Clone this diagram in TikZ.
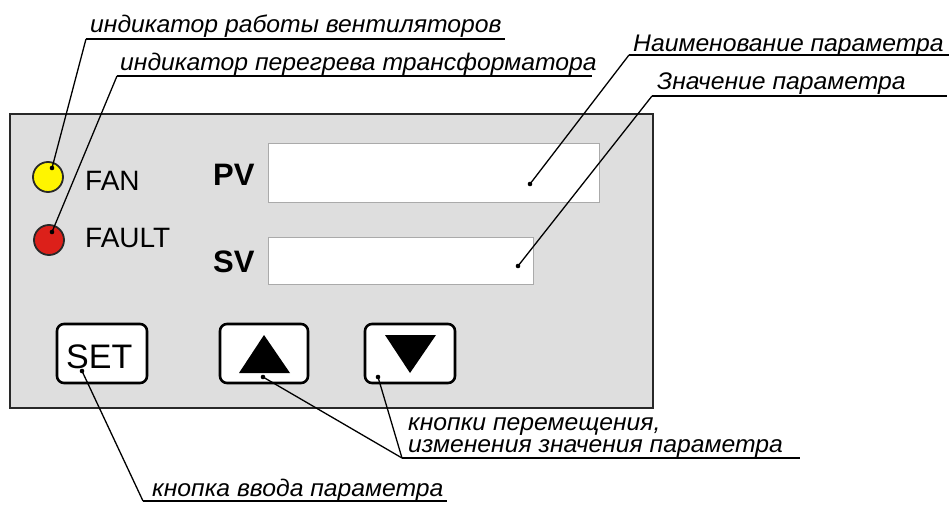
\documentclass[tikz,border=0pt]{standalone}
\usepackage{fontspec}
\setmainfont{Liberation Sans}
\newfontfamily\lblfont{Liberation Sans}[FakeStretch=1.03]
\definecolor{panelfill}{RGB}{222,222,222}
\definecolor{panelline}{RGB}{40,40,40}
\definecolor{boxline}{RGB}{170,170,170}
\definecolor{ledyellow}{RGB}{255,245,0}
\definecolor{ledred}{RGB}{220,32,26}
\tikzset{
  lbl/.style={anchor=base west, inner sep=0pt, font=\lblfont\itshape\fontsize{24}{28}\selectfont},
  tag/.style={anchor=base west, inner sep=0pt, font=\fontsize{28}{32}\selectfont},
  tagbold/.style={anchor=base west, inner sep=0pt, font=\bfseries\fontsize{31}{36}\selectfont},
  leader/.style={line width=1.3pt, black},
  uline/.style={line width=1.3pt, black},
  dispbox/.style={draw=boxline, fill=white, line width=1pt},
  btn/.style={draw=black, fill=white, line width=2.6pt, rounded corners=7pt},
  led/.style={draw=panelline, line width=1.8pt},
}
\begin{document}
\begin{tikzpicture}[x=1pt,y=-1pt]
\useasboundingbox (0,0) rectangle (949,505);

% front panel
\draw[fill=panelfill, draw=panelline, line width=2pt] (10,114) rectangle (653,408);

% indicator LEDs
\draw[led, fill=ledyellow] (48,177) circle (15pt);
\draw[led, fill=ledred] (49,240) circle (15pt);
\node[tag] (fan) at (85,190) {FAN};
\node[tag] (fault) at (85,247) {FAULT};

% display windows
\node[tagbold] (pv) at (213,185) {PV};
\node[tagbold] (sv) at (213,272) {SV};
\draw[dispbox] (268,144) rectangle (599,202);
\draw[dispbox] (268,237) rectangle (533,284);

% keys
\draw[btn] (57,324) rectangle (147,383);
\draw[btn] (220,324) rectangle (308,383);
\draw[btn] (365,324) rectangle (455,383);
\node[anchor=base west, inner sep=0pt, font=\fontsize{34}{40}\selectfont] (set) at (66,368) {SET};
\fill (239,373) -- (264,335) -- (290,373) -- cycle;
\fill (385,335) -- (436,335) -- (410,373) -- cycle;

% leader end points
\coordinate (dFan) at (52,168);
\coordinate (dFault) at (52,232);
\coordinate (dPV) at (530,184);
\coordinate (dSV) at (518,266);
\coordinate (dSet) at (82,371);
\coordinate (dUp) at (263,377);
\coordinate (dDown) at (378,377);
\foreach \p in {dFan,dFault,dPV,dSV,dSet,dUp,dDown} \fill (\p) circle (2.3pt);

% callout labels
\node[lbl] (t1) at (90,33) {индикатор работы вентиляторов};
\node[lbl] (t2) at (120,71) {индикатор перегрева трансформатора};
\node[lbl] (t3) at (633,52) {Наименование параметра};
\node[lbl] (t4) at (657,90) {Значение параметра};
\node[lbl] (t5a) at (408,430) {кнопки перемещения,};
\node[lbl] (t5b) at (408,452) {изменения значения параметра};
\node[lbl] (t6) at (152,496) {кнопка ввода параметра};

% underlines
\coordinate (u1) at (86,39);   \coordinate (u1e) at (505,39);
\coordinate (u2) at (117,76);  \coordinate (u2e) at (592,76);
\coordinate (u3) at (629,55);  \coordinate (u3e) at (949,55);
\coordinate (u4) at (652,96);  \coordinate (u4e) at (947,96);
\coordinate (u5) at (402,458); \coordinate (u5e) at (800,458);
\coordinate (u6) at (143,501); \coordinate (u6e) at (447,501);
\draw[uline] (u1) -- (u1e);
\draw[uline] (u2) -- (u2e);
\draw[uline] (u3) -- (u3e);
\draw[uline] (u4) -- (u4e);
\draw[uline] (u5) -- (u5e);
\draw[uline] (u6) -- (u6e);

% leaders
\draw[leader] (u1) -- (dFan);
\draw[leader] (u2) -- (dFault);
\draw[leader] (u3) -- (dPV);
\draw[leader] (u4) -- (dSV);
\draw[leader] (u5) -- (dUp);
\draw[leader] (u5) -- (dDown);
\draw[leader] (u6) -- (dSet);
\end{tikzpicture}
\end{document}
